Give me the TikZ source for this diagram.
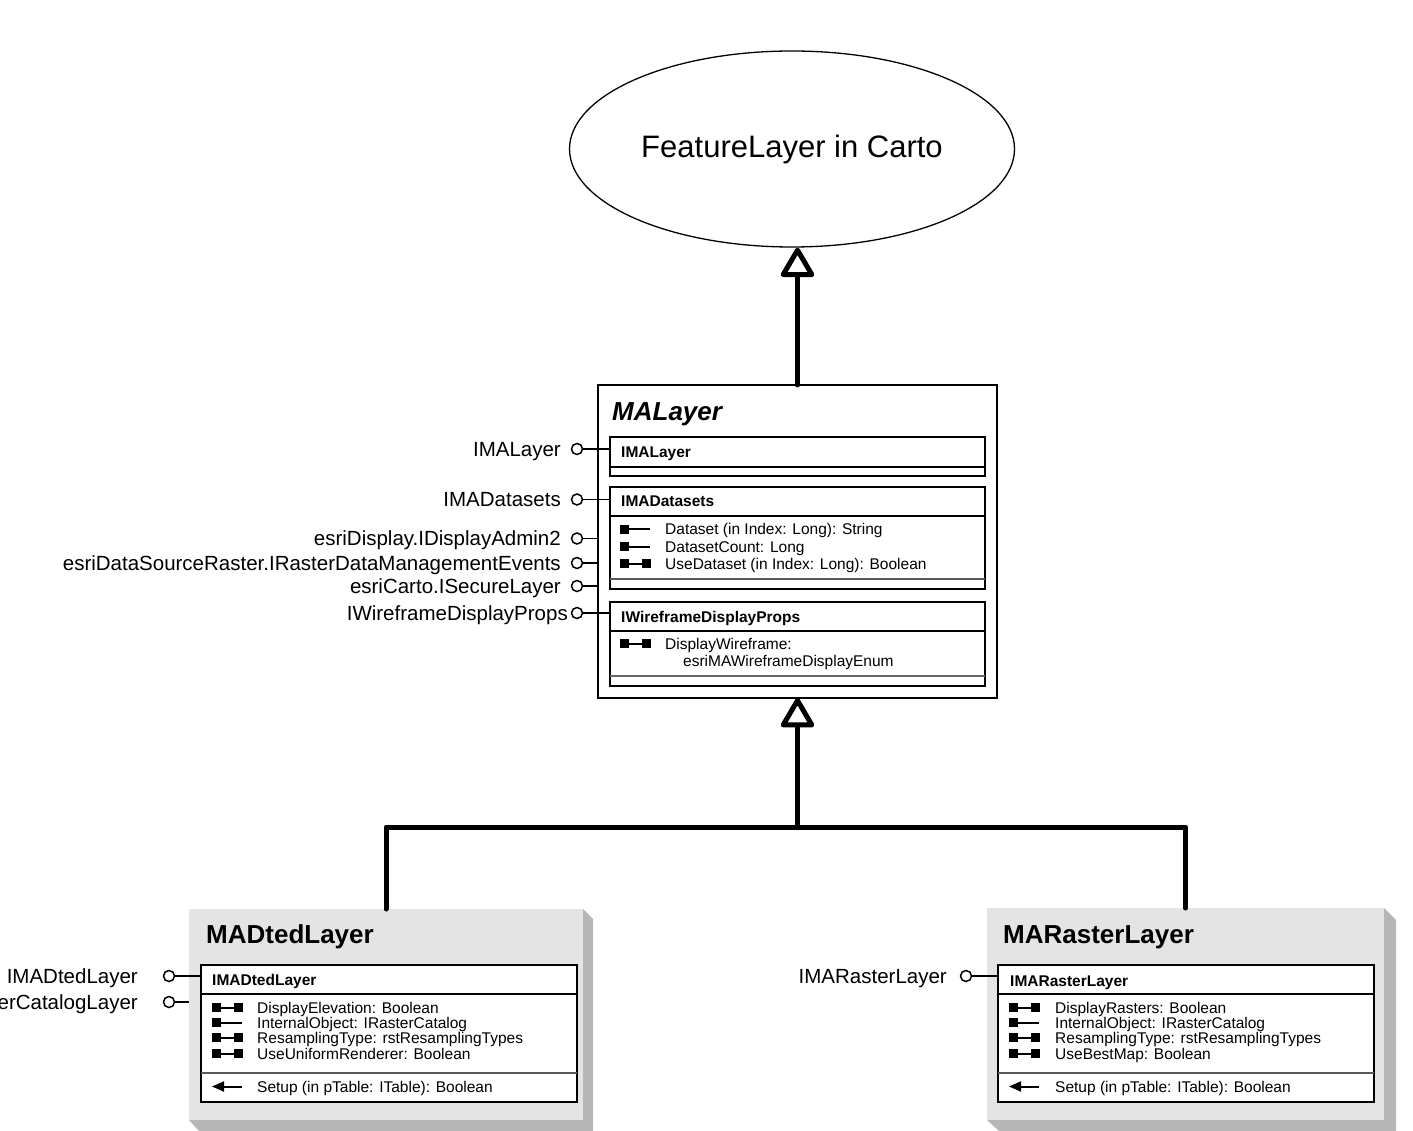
\documentclass[tikz,border=0pt]{standalone}
\usepackage{fontspec}
\setmainfont{Liberation Sans}
\usetikzlibrary{arrows.meta,shapes.geometric}
\definecolor{boxgray}{HTML}{E4E4E4}
\definecolor{shadowgray}{HTML}{B6B6B6}
\tikzset{
  lbl/.style={font=\fontsize{20.5}{24}\selectfont, anchor=base east, inner sep=0pt},
  itemtext/.style={font=\fontsize{15.5}{17}\selectfont, anchor=base west, inner sep=0pt},
  hdr/.style={font=\fontsize{15.5}{17}\selectfont\bfseries, anchor=base west, inner sep=0pt},
  bigtitle/.style={font=\fontsize{26}{30}\selectfont\bfseries, anchor=base west, inner sep=0pt},
  lol/.style={circle, draw, line width=1.5pt, minimum size=11pt, inner sep=0pt, fill=white},
  lline/.style={line width=1.5pt},
  ibox/.style={draw, line width=1.6pt, fill=white, inner sep=0pt, outer sep=0pt, anchor=north west},
  sepline/.style={line width=1.4pt},
  graybox/.style={fill=boxgray, inner sep=0pt, outer sep=0pt, anchor=north west},
  conn/.style={line width=5pt, line join=round, line cap=round},
  genarrow/.style={-{Triangle[length=32pt,width=36pt,fill=white,line join=round]}},
  getput/.pic={\fill (0,-4.5) rectangle (9,4.5); \draw[line width=2pt] (9,0) -- (22,0); \fill (22,-4.5) rectangle (31,4.5);},
  getonly/.pic={\fill (0,-4.5) rectangle (9,4.5); \draw[line width=2pt] (9,0) -- (30,0);},
  methodicon/.pic={\draw[line width=2pt,-{Triangle[length=12pt,width=10pt]}] (30,0) -- (0,0);}
}
\begin{document}
\begin{tikzpicture}[x=1pt,y=-1pt]
\useasboundingbox (0,0) rectangle (1413,1131);
\clip (0,0) rectangle (1413,1131);

% ---------- ellipse ----------
\node[draw, ellipse, line width=1.3pt, minimum width=445pt, minimum height=196pt, inner sep=0pt,
      font=\fontsize{31}{36}\selectfont] (ell) at (792,149) {FeatureLayer in Carto};

% ---------- MALayer ----------
\node[draw, line width=1.1pt, inner sep=0pt, outer sep=0pt, anchor=north west,
      minimum width=399pt, minimum height=313pt] (ma) at (598,385) {};
\node[font=\fontsize{26}{30}\selectfont\bfseries\itshape, anchor=base west, inner sep=0pt] (matitle) at (612,420) {MALayer};

\node[ibox, minimum width=375pt, minimum height=39pt] (b1) at (610,437) {};
\draw[sepline] (b1.west |- 0,467) -- (b1.east |- 0,467);
\node[hdr] (h1) at (621,457) {IMALayer};

\node[ibox, minimum width=375pt, minimum height=102pt] (b2) at (610,487) {};
\draw[sepline] (b2.west |- 0,516) -- (b2.east |- 0,516);
\draw[sepline, black!65] (b2.west |- 0,579) -- (b2.east |- 0,579);
\node[hdr] (h2) at (621,506) {IMADatasets};
\pic at (620,529) {getonly};
\node[itemtext] (i21) at (665,534.5) {Dataset (in Index: Long): String};
\pic at (620,546.5) {getonly};
\node[itemtext] (i22) at (665,552) {DatasetCount: Long};
\pic at (620,563.5) {getput};
\node[itemtext] (i23) at (665,569) {UseDataset (in Index: Long): Boolean};

\node[ibox, minimum width=375pt, minimum height=84pt] (b3) at (610,602) {};
\draw[sepline] (b3.west |- 0,631) -- (b3.east |- 0,631);
\draw[sepline, black!60] (b3.west |- 0,676) -- (b3.east |- 0,676);
\node[hdr] (h3) at (621,622) {IWireframeDisplayProps};
\pic at (620,643.5) {getput};
\node[itemtext] (i31) at (665,649) {DisplayWireframe:};
\node[itemtext] (i32) at (683,666.5) {esriMAWireframeDisplayEnum};

% lollipops of MALayer
\node[lol] (p1) at (577,449) {};
\draw[lline] (p1) -- (p1 -| b1.west);
\node[lbl] (t1) at (561,456) {IMALayer};
\node[lol] (p2) at (577,499.5) {};
\draw[lline] (p2) -- (p2 -| b2.west);
\node[lbl] (t2) at (561,506) {IMADatasets};
\node[lol] (p3) at (577,538.5) {};
\draw[lline] (p3) -- (p3 -| ma.west);
\node[lbl] (t3) at (561,545.5) {esriDisplay.IDisplayAdmin2};
\node[lol] (p4) at (577,563) {};
\draw[lline] (p4) -- (p4 -| ma.west);
\node[lbl] (t4) at (561,570) {esriDataSourceRaster.IRasterDataManagementEvents};
\node[lol] (p5) at (577,586) {};
\draw[lline] (p5) -- (p5 -| ma.west);
\node[lbl] (t5) at (561,593) {esriCarto.ISecureLayer};
\node[lol] (p6) at (577,613) {};
\draw[lline] (p6) -- (p6 -| b3.west);
\node[lbl] (t6) at (568,620) {IWireframeDisplayProps};

% ---------- MADtedLayer ----------
\fill[shadowgray] (583,909) -- (593,919) -- (593,1131) -- (199,1131) -- (189,1120) -- cycle;
\node[graybox, minimum width=394pt, minimum height=211pt] (dted) at (189,909) {};
\node[bigtitle] (dtitle) at (206,943) {MADtedLayer};
\node[ibox, minimum width=376pt, minimum height=137pt] (db) at (201,965) {};
\draw[sepline] (db.west |- 0,994) -- (db.east |- 0,994);
\draw[sepline, black!65] (db.west |- 0,1073) -- (db.east |- 0,1073);
\node[hdr] (dh) at (212,985) {IMADtedLayer};
\pic at (212,1007.5) {getput};
\node[itemtext] (d1) at (257,1013) {DisplayElevation: Boolean};
\pic at (212,1022.5) {getonly};
\node[itemtext] (d2) at (257,1028) {InternalObject: IRasterCatalog};
\pic at (212,1037.5) {getput};
\node[itemtext] (d3) at (257,1043) {ResamplingType: rstResamplingTypes};
\pic at (212,1053.5) {getput};
\node[itemtext] (d4) at (257,1059) {UseUniformRenderer: Boolean};
\pic at (212,1086.5) {methodicon};
\node[itemtext] (d5) at (257,1092) {Setup (in pTable: ITable): Boolean};

\node[lol] (q1) at (169,976) {};
\draw[lline] (q1) -- (q1 -| db.west);
\node[lbl] (u1) at (138,983) {IMADtedLayer};
\node[lol] (q2) at (169,1002) {};
\draw[lline] (q2) -- (q2 -| dted.west);
\node[lbl] (u2) at (138,1009) {esriCarto.IRasterCatalogLayer};

% ---------- MARasterLayer ----------
\fill[shadowgray] (1384,908) -- (1396,920) -- (1396,1131) -- (999,1131) -- (987,1120) -- cycle;
\node[graybox, minimum width=397pt, minimum height=212pt] (raster) at (987,908) {};
\node[bigtitle] (rtitle) at (1003,943) {MARasterLayer};
\node[ibox, minimum width=376pt, minimum height=137pt] (rb) at (998,965) {};
\draw[sepline] (rb.west |- 0,994) -- (rb.east |- 0,994);
\draw[sepline, black!65] (rb.west |- 0,1073) -- (rb.east |- 0,1073);
\node[hdr] (rh) at (1010,986) {IMARasterLayer};
\pic at (1009,1007.5) {getput};
\node[itemtext] (r1) at (1055,1013) {DisplayRasters: Boolean};
\pic at (1009,1022.5) {getonly};
\node[itemtext] (r2) at (1055,1028) {InternalObject: IRasterCatalog};
\pic at (1009,1037.5) {getput};
\node[itemtext] (r3) at (1055,1043) {ResamplingType: rstResamplingTypes};
\pic at (1009,1053.5) {getput};
\node[itemtext] (r4) at (1055,1059) {UseBestMap: Boolean};
\pic at (1009,1086.5) {methodicon};
\node[itemtext] (r5) at (1055,1092) {Setup (in pTable: ITable): Boolean};

\node[lol] (q3) at (966,976) {};
\draw[lline] (q3) -- (q3 -| rb.west);
\node[lbl] (u3) at (947,983) {IMARasterLayer};

% ---------- inheritance connectors ----------
\draw[conn, genarrow] (ma.north) -- (ma.north |- ell.south);
\coordinate (jn) at (797.5,827);
\draw[conn] (dted.north) |- (jn) -| (raster.north);
\draw[conn, genarrow] (jn) -- (ma.south);
\end{tikzpicture}
\end{document}
